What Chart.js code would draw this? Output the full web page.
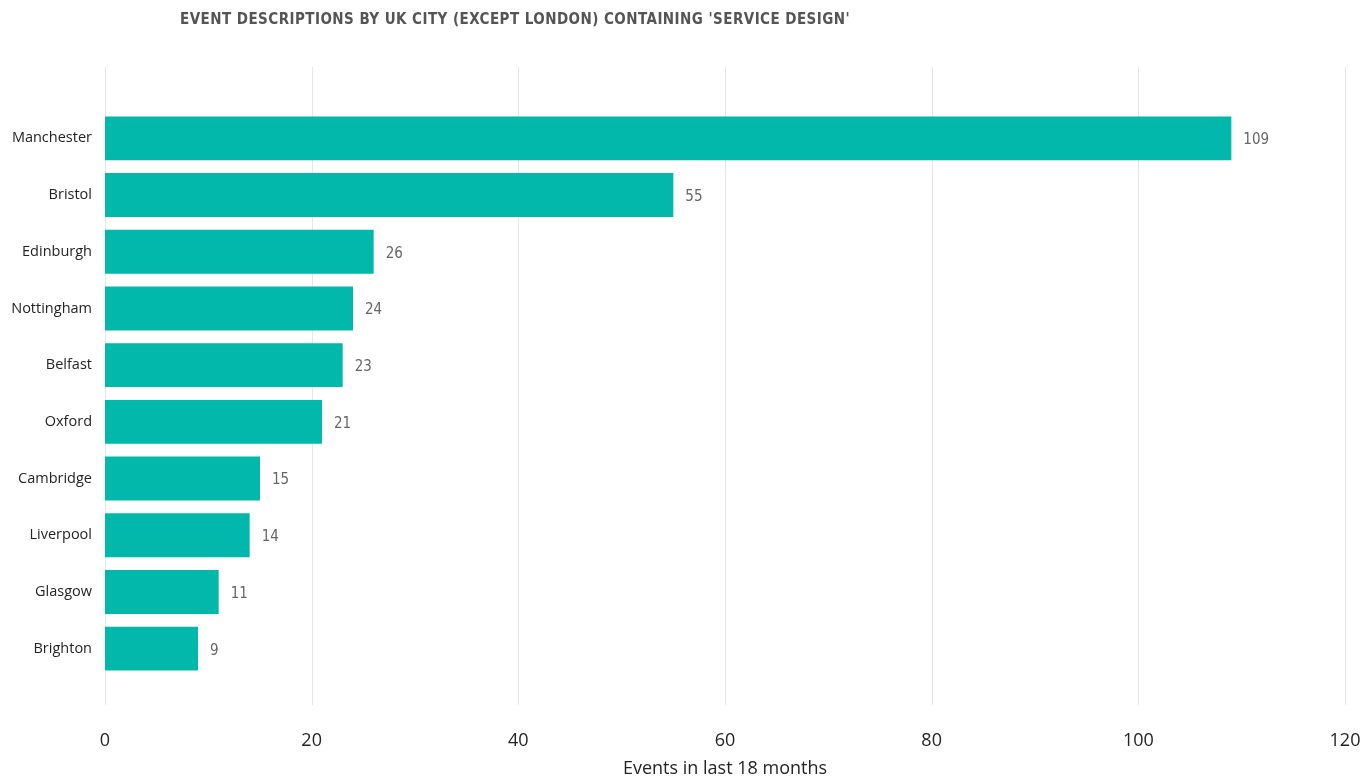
<!DOCTYPE html>
<html>
<head>
<meta charset="utf-8">
<script src="https://cdn.jsdelivr.net/npm/chart.js@4"></script>
<style>
    html, body { margin: 0; padding: 0; background: #fff; }
    #wrap { position: relative; width: 1365px; height: 778px; }
    #title {
        position: absolute; left: 180px; top: 10px;
        font-family: 'DejaVu Sans Condensed', 'DejaVu Sans', sans-serif;
        font-weight: bold; font-size: 15px; letter-spacing: 0.45px;
        color: #555555; white-space: nowrap;
    }
</style>
</head>
<body>
<div id="wrap">
    <div id="title">EVENT DESCRIPTIONS BY UK CITY (EXCEPT LONDON) CONTAINING 'SERVICE DESIGN'</div>
    <canvas id="chart" width="1365" height="778"></canvas>
</div>
<script>
const cities = ['Manchester', 'Bristol', 'Edinburgh', 'Nottingham', 'Belfast', 'Oxford', 'Cambridge', 'Liverpool', 'Glasgow', 'Brighton'];
const events = [109, 55, 26, 24, 23, 21, 15, 14, 11, 9];
const xTicks = [0, 20, 40, 60, 80, 100, 120];

const teal = '#01B8AA';

// vertical grid lines reach above and below the bars
const gridPlugin = {
    id: 'tallGrid',
    beforeDatasetsDraw(chart) {
        const { ctx } = chart;
        const x = chart.scales.x;
        ctx.save();
        ctx.strokeStyle = '#e6e6e6';
        ctx.lineWidth = 1;
        xTicks.forEach(v => {
            const px = Math.round(x.getPixelForValue(v)) + 0.5;
            ctx.beginPath();
            ctx.moveTo(px, 67);
            ctx.lineTo(px, 705);
            ctx.stroke();
        });
        ctx.restore();
    }
};

// value labels to the right of each bar
const valuePlugin = {
    id: 'values',
    afterDatasetsDraw(chart) {
        const { ctx } = chart;
        const meta = chart.getDatasetMeta(0);
        ctx.save();
        ctx.font = '15px "DejaVu Sans Condensed", "DejaVu Sans", sans-serif';
        ctx.fillStyle = '#666666';
        ctx.textAlign = 'left';
        ctx.textBaseline = 'middle';
        meta.data.forEach((bar, i) => {
            ctx.fillText(events[i], bar.x + 12, bar.y + 2);
        });
        ctx.restore();
    }
};

const chart = new Chart(document.getElementById('chart'), {
    type: 'bar',
    data: {
        labels: cities,
        datasets: [
            {
                label: 'Events',
                data: events,
                backgroundColor: teal,
                borderWidth: 0,
                categoryPercentage: 1,
                barPercentage: 0.775
            }
        ]
    },
    options: {
        indexAxis: 'y',
        responsive: false,
        animation: false,
        layout: {
            padding: { top: 110, right: 20, left: 0, bottom: 0 }
        },
        plugins: {
            legend: { display: false },
            tooltip: { enabled: false }
        },
        scales: {
            x: {
                type: 'linear',
                min: 0,
                max: 120,
                afterBuildTicks: (scale) => {
                    scale.ticks = xTicks.map(v => ({ value: v }));
                },
                afterFit: (scale) => {
                    scale.height = 101;
                    scale.paddingLeft = 0;
                    scale.paddingRight = 0;
                },
                grid: { display: false, drawTicks: false },
                border: { display: false },
                ticks: {
                    padding: 53,
                    color: '#252423',
                    font: { family: "'Open Sans', 'Noto Sans', sans-serif", size: 18 }
                },
                title: {
                    display: true,
                    text: 'Events in last 18 months',
                    color: '#252423',
                    font: { family: "'Open Sans', 'Noto Sans', sans-serif", size: 18 },
                    padding: { top: 0, bottom: -2 }
                }
            },
            y: {
                afterFit: (scale) => {
                    scale.width = 105;
                },
                grid: { display: false, drawTicks: false },
                border: { display: false },
                ticks: {
                    padding: 13,
                    color: '#252423',
                    font: { family: "'Open Sans', 'Noto Sans', sans-serif", size: 14.5 }
                }
            }
        }
    },
    plugins: [gridPlugin, valuePlugin]
});
</script>
</body>
</html>
